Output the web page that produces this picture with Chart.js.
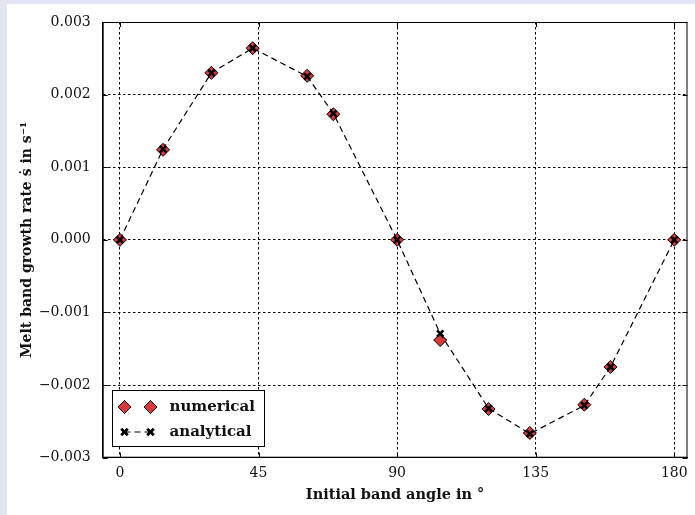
<!DOCTYPE html>
<html>
<head>
<meta charset="utf-8">
<script src="https://cdn.jsdelivr.net/npm/chart.js@4.4.1/dist/chart.umd.min.js"></script>
<style>
  html, body { margin: 0; padding: 0; background: #e2e5f3; }
  #wrap { position: absolute; left: 0; top: 0; width: 695px; height: 515px; }
</style>
</head>
<body>
<div id="wrap"><canvas id="chart"></canvas></div>
<script>
// initial band angle (deg) and growth rate values
const angles = [0, 14, 29.7, 43.1, 60.8, 69.3, 90, 104, 119.7, 133.1, 150.8, 159.3, 180];
const numerical = [0, 0.00124, 0.0023, 0.00264, 0.00226, 0.00173, 0, -0.00138, -0.00233, -0.00266, -0.00227, -0.00175, 0];
const analytical = [0, 0.00125, 0.0023, 0.00264, 0.00225, 0.00174, 0, -0.00129, -0.00232, -0.00267, -0.00228, -0.00175, 0];
const xTicks = [0, 45, 90, 135, 180];
const yTicks = [-0.003, -0.002, -0.001, 0, 0.001, 0.002, 0.003];
const seriesNames = ['numerical', 'analytical'];

const serif = '"DejaVu Serif", "Liberation Serif", serif';
const red = '#d8393b';

// lavender frame + white figure
const figureBg = {
  id: 'figureBg',
  beforeDraw(chart) {
    const ctx = chart.ctx;
    ctx.save();
    ctx.fillStyle = '#e2e5f3';
    ctx.fillRect(0, 0, chart.width, chart.height);
    ctx.fillStyle = '#ffffff';
    ctx.fillRect(7, 4, chart.width - 7, chart.height - 4);
    ctx.restore();
  }
};

// box, inward ticks and legend
const frame = {
  id: 'frame',
  afterDraw(chart) {
    const ctx = chart.ctx;
    const a = chart.chartArea;
    const xs = chart.scales.x, ys = chart.scales.y;
    ctx.save();
    ctx.strokeStyle = '#000';
    ctx.lineWidth = 1;
    ctx.setLineDash([]);
    ctx.strokeRect(a.left + 0.5, a.top + 0.5, a.right - a.left - 1, a.bottom - a.top - 1);
    ctx.beginPath();
    xTicks.forEach(t => {
      const px = Math.round(xs.getPixelForValue(t)) + 0.5;
      ctx.moveTo(px, a.bottom); ctx.lineTo(px, a.bottom - 5);
      ctx.moveTo(px, a.top); ctx.lineTo(px, a.top + 5);
    });
    yTicks.forEach(t => {
      const py = Math.round(ys.getPixelForValue(t)) + 0.5;
      ctx.moveTo(a.left, py); ctx.lineTo(a.left + 5, py);
      ctx.moveTo(a.right, py); ctx.lineTo(a.right - 5, py);
    });
    ctx.stroke();

    // legend
    const bx = 112.5, by = 390.5, bw = 152, bh = 56;
    ctx.fillStyle = '#fff';
    ctx.fillRect(bx, by, bw, bh);
    ctx.strokeRect(bx, by, bw, bh);
    const y1 = by + 16.5, y2 = by + 41.5;
    const m1 = bx + 12, m2 = bx + 38;
    [m1, m2].forEach(mx => {
      ctx.fillStyle = red; ctx.strokeStyle = '#000'; ctx.lineWidth = 1;
      Chart.helpers.drawPoint(ctx, { pointStyle: 'rectRot', radius: 6.5, borderWidth: 1 }, mx, y1);
      ctx.fill(); ctx.stroke();
    });
    ctx.strokeStyle = '#000';
    ctx.lineWidth = 1.2;
    ctx.setLineDash([6, 4]);
    ctx.beginPath(); ctx.moveTo(m1, y2); ctx.lineTo(m2, y2); ctx.stroke();
    ctx.setLineDash([]);
    [m1, m2].forEach(mx => {
      ctx.lineWidth = 2.5;
      Chart.helpers.drawPoint(ctx, { pointStyle: 'crossRot', radius: 4.5, borderWidth: 2.5 }, mx, y2);
      ctx.stroke();
    });
    ctx.fillStyle = '#111';
    ctx.font = 'bold 15px ' + serif;
    ctx.textBaseline = 'middle';
    ctx.fillText(seriesNames[0], bx + 57, y1);
    ctx.fillText(seriesNames[1], bx + 57, y2);
    ctx.restore();
  }
};

const fmtY = v => (v < 0 ? '\u2212' : '') + Math.abs(v).toFixed(3);

new Chart(document.getElementById('chart'), {
  type: 'line',
  data: {
    datasets: [
      {
        label: seriesNames[1],
        data: angles.map((a, i) => ({ x: a, y: analytical[i] })),
        borderColor: '#000',
        borderWidth: 1.2,
        borderDash: [6, 4],
        pointStyle: 'crossRot',
        pointRadius: 4.5,
        pointBorderWidth: 2.5,
        pointBorderColor: '#000',
        pointBackgroundColor: '#000',
        fill: false,
        tension: 0,
        order: 0
      },
      {
        label: seriesNames[0],
        data: angles.map((a, i) => ({ x: a, y: numerical[i] })),
        showLine: false,
        pointStyle: 'rectRot',
        pointRadius: 6.5,
        pointBorderWidth: 1,
        pointBorderColor: '#000',
        pointBackgroundColor: red,
        order: 1
      }
    ]
  },
  options: {
    responsive: true,
    maintainAspectRatio: false,
    animation: false,
    layout: { padding: { top: 22, right: 1, left: 7, bottom: 0 } },
    plugins: {
      legend: { display: false },
      tooltip: { enabled: false }
    },
    scales: {
      x: {
        type: 'linear',
        min: -5.6,
        max: 184.3,
        afterBuildTicks: s => { s.ticks = xTicks.map(v => ({ value: v })); },
        afterFit: s => { s.height = 57.3; },
        grid: { color: '#000', lineWidth: 1, drawTicks: false },
        border: { display: true, color: '#000', width: 1, dash: [2.5, 2.5] },
        ticks: { color: '#111', padding: 7, font: { family: serif, size: 14 } },
        title: {
          display: true,
          text: 'Initial band angle in °',
          color: '#111',
          font: { family: serif, size: 14.5, weight: 'bold' },
          padding: { top: 0, bottom: 11 }
        }
      },
      y: {
        min: -0.003,
        max: 0.003,
        afterBuildTicks: s => { s.ticks = yTicks.map(v => ({ value: v })); },
        afterFit: s => { s.width = 95.7; },
        grid: { color: '#000', lineWidth: 1, drawTicks: false },
        border: { display: true, color: '#000', width: 1, dash: [2.5, 2.5] },
        ticks: { color: '#111', padding: 12, font: { family: serif, size: 14 }, callback: v => fmtY(v) },
        title: {
          display: true,
          text: 'Melt band growth rate ṡ in s⁻¹',
          color: '#111',
          font: { family: serif, size: 14, weight: 'bold' },
          padding: { top: 12, bottom: 0 }
        }
      }
    }
  },
  plugins: [figureBg, frame]
});
</script>
</body>
</html>
